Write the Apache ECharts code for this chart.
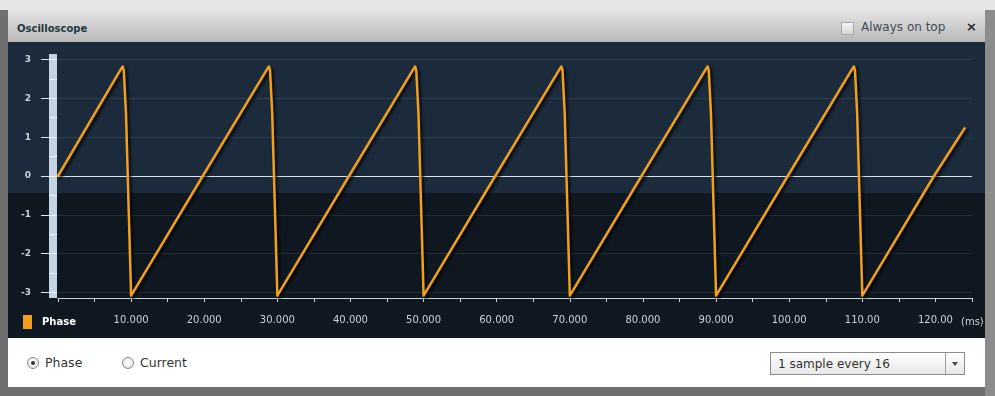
<!DOCTYPE html>
<html>
<head>
<meta charset="utf-8">
<script src="https://cdn.jsdelivr.net/npm/echarts@6/dist/echarts.min.js"></script>
<style>
  html, body { margin: 0; padding: 0; }
  body { width: 995px; height: 396px; position: relative; overflow: hidden; background: #6f6f6f; font-family: "DejaVu Sans", sans-serif; }
  .topstrip { position: absolute; left: 0; top: 0; width: 995px; height: 10px; background: #e6e6e6; }
  .rightedge { position: absolute; left: 985px; top: 10px; width: 10px; height: 386px; background: #8c8c8c; }
  .titlebar { position: absolute; left: 8px; top: 10px; width: 977px; height: 32px;
    background: linear-gradient(to bottom, #e4e4e4, #b8b8b8); }
  .title { position: absolute; left: 9px; top: 13px; font-size: 10px; font-weight: bold; color: #1c3b40; }
  .chk { position: absolute; left: 833px; top: 12px; width: 11px; height: 11px; border: 1px solid #a8a8a8;
    background: linear-gradient(to bottom, #f4f4f4, #d8d8d8); border-radius: 1px; }
  .ontop { position: absolute; left: 853px; top: 10px; font-size: 12px; color: #444c55; }
  .close { position: absolute; left: 958px; top: 9px; font-size: 13px; font-weight: bold; color: #222; }
  #scope { position: absolute; left: 8px; top: 42px; width: 977px; height: 296px;
    background: linear-gradient(to bottom, #1b2b3c 0px, #1b2b3c 151px, #0f1820 151px, #0f1820 100%); }
  .controls { position: absolute; left: 8px; top: 338px; width: 977px; height: 49px; background: #ffffff; }
  .radio { position: absolute; top: 19px; width: 10px; height: 10px; border: 1px solid #8a8a8a; border-radius: 50%;
    background: radial-gradient(circle at 50% 40%, #ffffff, #dcdcdc); }
  .radio.on::after { content: ""; position: absolute; left: 3px; top: 3px; width: 4px; height: 4px; border-radius: 50%; background: #333; }
  .rlabel { position: absolute; top: 17px; font-size: 12.5px; color: #333; }
  .select { position: absolute; left: 762px; top: 14px; width: 193px; height: 21px; border: 1px solid #8c8c8c;
    background: linear-gradient(to bottom, #ffffff, #e8e8e8); }
  .select span { position: absolute; left: 7px; top: 4px; font-size: 12px; color: #333; }
  .select .btn { position: absolute; right: 0; top: 0; width: 18px; height: 21px; border-left: 1px solid #a0a0a0; }
  .select .btn::after { content: ""; position: absolute; left: 6px; top: 9px; border-left: 3px solid transparent;
    border-right: 3px solid transparent; border-top: 4px solid #444; }
</style>
</head>
<body>
<div class="topstrip"></div>
<div class="rightedge"></div>
<div class="titlebar">
  <span class="title">Oscilloscope</span>
  <i class="chk"></i><span class="ontop">Always on top</span>
  <span class="close">×</span>
</div>
<div id="scope"></div>
<div class="controls">
  <i class="radio on" style="left:19px"></i><span class="rlabel" style="left:37px">Phase</span>
  <i class="radio" style="left:114px"></i><span class="rlabel" style="left:132px">Current</span>
  <div class="select"><span>1 sample every 16</span><i class="btn"></i></div>
</div>
<script>
// phase samples (time in ms, value in rad)
const timeMs = [
  0, 8.5, 8.85, 9.0, 9.3, 10,
  19.8, 28.5, 28.85, 29.0, 29.3, 30,
  39.8, 48.5, 48.85, 49.0, 49.3, 50,
  59.8, 68.5, 68.85, 69.0, 69.3, 70,
  79.8, 88.5, 88.85, 89.0, 89.3, 90,
  99.8, 108.5, 108.85, 109.0, 109.3, 110,
  119.8, 124.0
]
const phaseValues = [
  0, 2.72, 2.82, 2.72, 1.6, -3.08,
  0, 2.72, 2.82, 2.72, 1.6, -3.08,
  0, 2.72, 2.82, 2.72, 1.6, -3.08,
  0, 2.72, 2.82, 2.72, 1.6, -3.08,
  0, 2.72, 2.82, 2.72, 1.6, -3.08,
  0, 2.72, 2.82, 2.72, 1.6, -3.08,
  0, 1.23
]
const yLabelValues = [-3, -2, -1, 0, 1, 2, 3]
const yMinorValues = [-3, -2.5, -2, -1.5, -1, -0.5, 0, 0.5, 1, 1.5, 2, 2.5, 3]
const xLabelValues = [10, 20, 30, 40, 50, 60, 70, 80, 90, 100, 110, 120]
const yRange = [-3.1416, 3.1416]
const xRange = [0, 125]

const points = timeMs.map((t, i) => [t, phaseValues[i]])

const chart = echarts.init(document.getElementById('scope'))

const yBase = {
  type: 'value',
  min: yRange[0],
  max: yRange[1],
  position: 'left',
  splitLine: { show: false },
  axisLabel: { show: false },
  axisLine: { show: false, onZero: false },
  axisTick: { show: false }
}

chart.setOption({
  animation: false,
  grid: { left: 50, right: 13, top: 12, bottom: 40 },
  legend: {
    data: ['Phase'],
    left: 10,
    top: 268,
    icon: 'rect',
    itemWidth: 9,
    itemHeight: 14,
    textStyle: { color: '#ffffff', fontWeight: 'bold', fontSize: 10, fontFamily: 'DejaVu Sans', padding: [0, 0, 0, 5] }
  },
  graphic: [{
    type: 'text',
    left: 953,
    top: 275,
    style: { text: '(ms)', fill: '#c9d1d9', font: '10px "DejaVu Sans"' }
  }],
  xAxis: {
    type: 'value',
    min: xRange[0],
    max: xRange[1],
    interval: 5,
    axisLine: { onZero: false, lineStyle: { color: '#c8d0d8', width: 1 } },
    axisTick: { length: 4, lineStyle: { color: '#c8d0d8' } },
    splitLine: { show: false },
    axisLabel: {
      customValues: xLabelValues,
      margin: 17,
      color: '#c9d1d9',
      fontSize: 10,
      fontFamily: 'DejaVu Sans',
      formatter: v => v < 100 ? v.toFixed(3) : v.toFixed(2)
    }
  },
  yAxis: [
    Object.assign({}, yBase, {
      offset: 5,
      axisLine: { show: true, onZero: false, lineStyle: { color: '#c3d3e3', width: 8, cap: 'butt' } },
      axisLabel: {
        show: true,
        customValues: yLabelValues,
        margin: 22,
        color: '#c9d1d9',
        fontSize: 9,
        fontWeight: 'bold',
        fontFamily: 'DejaVu Sans'
      }
    }),
    Object.assign({}, yBase, {
      offset: 1,
      axisTick: { show: true, customValues: yLabelValues, length: 16, lineStyle: { color: '#dfe6ee' } },
      splitLine: { show: true, lineStyle: { color: 'rgba(255,255,255,0.09)', width: 1 } }
    }),
    Object.assign({}, yBase, {
      offset: 1,
      axisTick: { show: true, customValues: yMinorValues, length: 8, lineStyle: { color: '#eef3f8' } }
    })
  ],
  series: [{
    name: 'Phase',
    type: 'line',
    yAxisIndex: 0,
    data: points,
    showSymbol: false,
    smooth: false,
    color: '#f2a01c',
    lineStyle: {
      width: 2.5,
      color: '#f2a01c',
      cap: 'round',
      join: 'round',
      shadowColor: 'rgba(0,0,0,0.9)',
      shadowBlur: 3,
      shadowOffsetX: 2,
      shadowOffsetY: 2
    },
    markLine: {
      silent: true,
      symbol: 'none',
      label: { show: false },
      lineStyle: { color: '#d8e0e8', width: 1, type: 'solid' },
      data: [{ yAxis: 0 }],
      z: 1
    },
    z: 3
  }]
})

window.addEventListener('resize', () => chart.resize())
</script>
</body>
</html>
